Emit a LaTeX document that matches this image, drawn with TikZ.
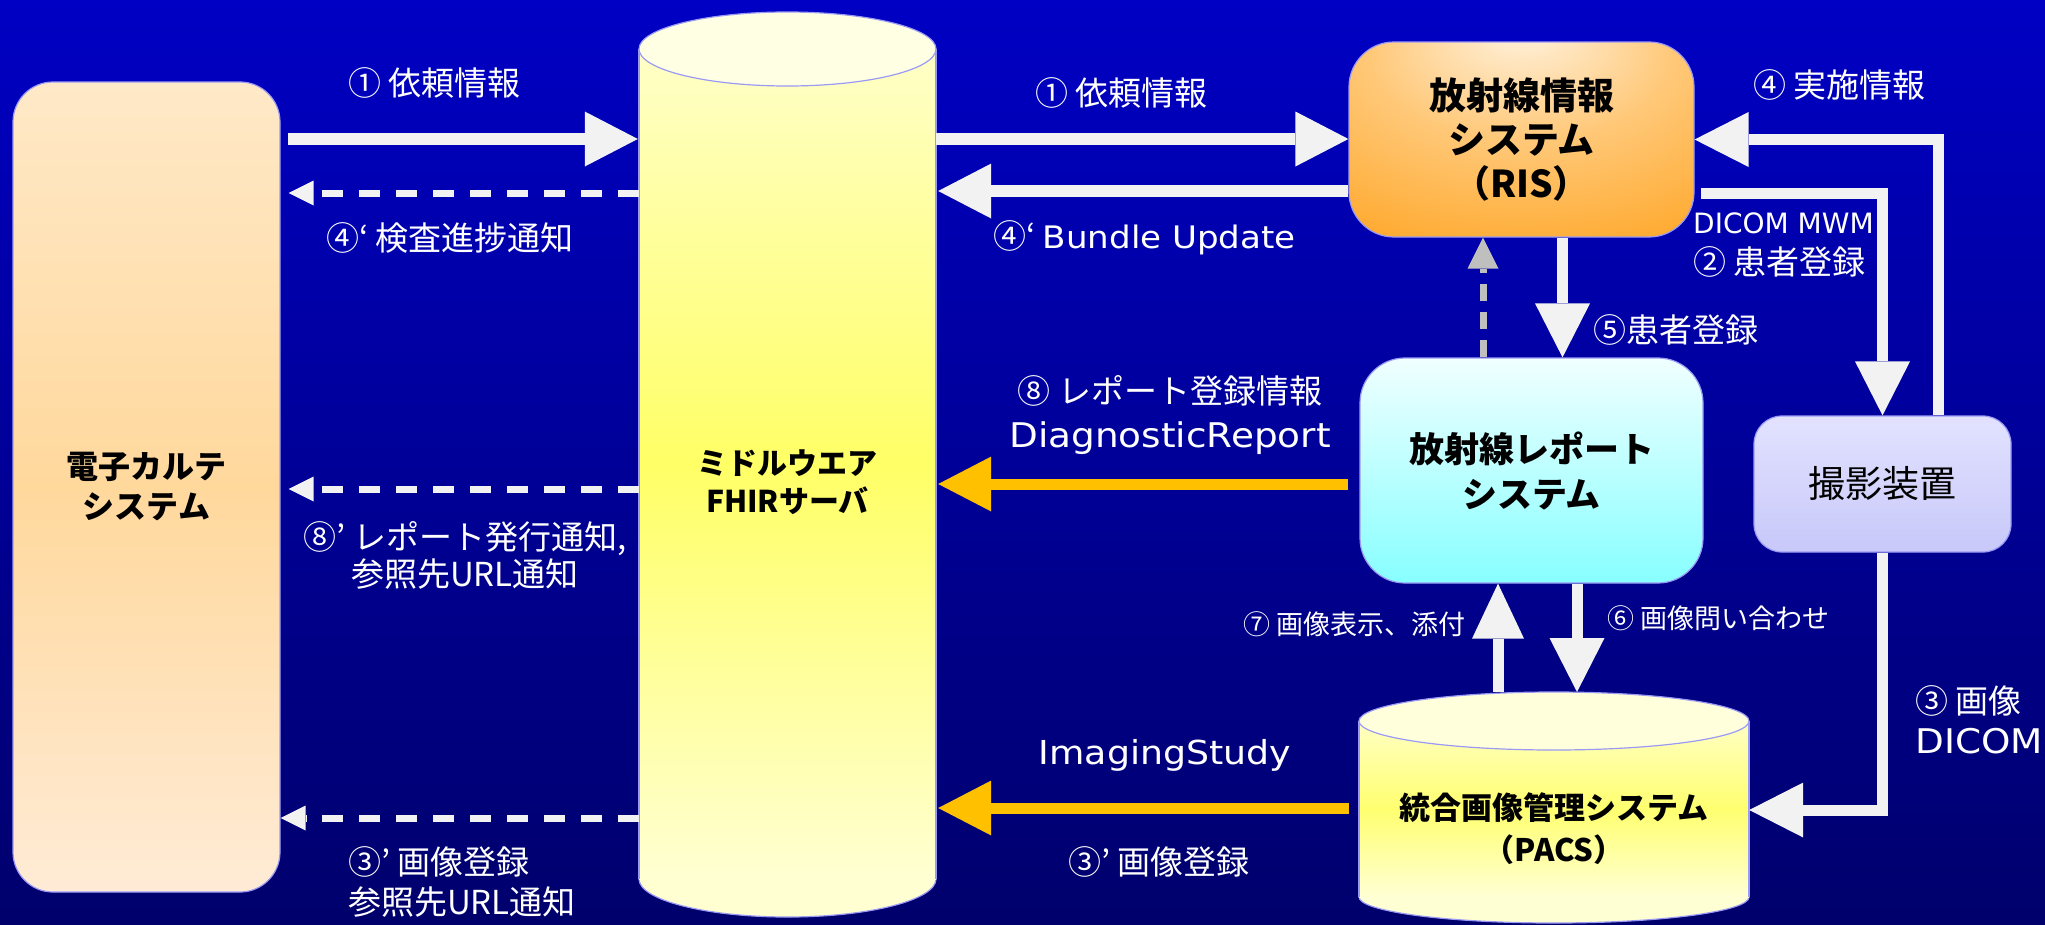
\documentclass[tikz,border=0pt]{standalone}
\usepackage{fontspec}
\setmainfont{Noto Sans CJK JP}
\newfontfamily\latfont{DejaVu Sans}
\newfontfamily\latwide{DejaVu Sans}[FakeStretch=1.1]
\usetikzlibrary{arrows.meta,calc}
\definecolor{bgtop}{HTML}{0000C4}
\definecolor{bgbot}{HTML}{00006C}
\definecolor{edge}{HTML}{9A9AF5}
\definecolor{arrw}{HTML}{F2F2F2}
\definecolor{orng}{HTML}{FFC000}
\definecolor{gry}{HTML}{BFBFBF}
\definecolor{ehrA}{HTML}{FFE9C8}
\definecolor{ehrB}{HTML}{FFD89C}
\definecolor{ehrC}{HTML}{FFEBD6}
\definecolor{cylA}{HTML}{FFFFC8}
\definecolor{cylB}{HTML}{FFFF66}
\definecolor{cylC}{HTML}{FFFFD2}
\definecolor{cylT}{HTML}{FFFFE4}
\definecolor{pacA}{HTML}{FFFFC4}
\definecolor{pacB}{HTML}{FFFF70}
\definecolor{pacC}{HTML}{FFFFD4}
\definecolor{pacT}{HTML}{FFFFDC}
\definecolor{risA}{HTML}{FFF4E2}
\definecolor{risB}{HTML}{FFC878}
\definecolor{risC}{HTML}{FFA21C}
\definecolor{repA}{HTML}{F0FFFF}
\definecolor{repB}{HTML}{88FFFF}
\definecolor{devA}{HTML}{E2E2FF}
\definecolor{devB}{HTML}{C8C8FA}
\pgfdeclareradialshading{risshade}{\pgfpoint{0bp}{30bp}}{color(0bp)=(risA); color(22bp)=(risB); color(50bp)=(risC); color(80bp)=(risC)}
\begin{document}
\begin{tikzpicture}[x=1pt,y=-1pt,
  box/.style={draw=edge, line width=1.2pt, inner sep=0pt, align=center, text=black},
  warrow/.style={draw=arrw, line width=12pt, line join=miter, -{Triangle[width=55pt,length=53pt,line width=0pt]}},
  varrow/.style={draw=arrw, line width=11pt, line join=miter, -{Triangle[width=55pt,length=54pt,line width=0pt]}},
  oarrow/.style={draw=orng, line width=11pt, -{Triangle[width=55pt,length=53pt,line width=0pt]}},
  darrow/.style={draw=arrw, line width=7pt, dash pattern=on 21pt off 16pt, -{Triangle[width=25pt,length=25pt,line width=0pt]}},
  garrow/.style={draw=gry, line width=7pt, dash pattern=on 17pt off 11pt, -{Triangle[width=31pt,length=31pt,line width=0pt]}},
  lbl/.style={text=white, inner sep=0pt, font=\fontsize{33}{40}\selectfont},
  slbl/.style={text=white, inner sep=0pt, font=\fontsize{27}{32}\selectfont}]
\useasboundingbox (0,0) rectangle (2045,924);
\shade[top color=bgtop, bottom color=bgbot] (0,0) rectangle (2045,924);

% middleware cylinder
\filldraw[fill=cylC, draw=edge, line width=1.2pt] (787.5,879) ellipse [x radius=148.5pt, y radius=38pt];
\shade[top color=cylA, bottom color=cylC, middle color=cylB] (639,49) rectangle (936,879);
\draw[edge, line width=1.2pt] (639,49) -- (639,879) (936,49) -- (936,879);
\filldraw[fill=cylT, draw=edge, line width=1.2pt] (787.5,49) ellipse [x radius=148.5pt, y radius=37pt];
\node[inner sep=0pt, minimum width=297pt, align=center, font=\fontsize{30}{38}\selectfont\bfseries] (fhir) at (787.5,482) {ミドルウエア\\FHIRサーバ};

% PACS cylinder
\filldraw[fill=pacC, draw=edge, line width=1.2pt] (1554,897) ellipse [x radius=195pt, y radius=26pt];
\shade[top color=pacA, bottom color=pacC, middle color=pacB] (1359,721) rectangle (1749,897);
\draw[edge, line width=1.2pt] (1359,721) -- (1359,897) (1749,721) -- (1749,897);
\filldraw[fill=pacT, draw=edge, line width=1.2pt] (1554,721) ellipse [x radius=195pt, y radius=29pt];
\coordinate (pacstop) at (1554,692);
\node[inner sep=0pt, minimum width=390pt, align=center, font=\fontsize{31}{42}\selectfont\bfseries] (pacs) at (1554,829) {統合画像管理システム\\（PACS）};

% boxes
\node[box, rounded corners=40pt, minimum width=267pt, minimum height=810pt, top color=ehrA, bottom color=ehrC, middle color=ehrB, font=\fontsize{32}{40}\selectfont\bfseries] (ehr) at (146.5,487) {電子カルテ\\システム};
\node[box, rounded corners=45pt, minimum width=345pt, minimum height=195pt, shading=risshade, font=\fontsize{37}{44}\selectfont\bfseries] (ris) at (1521.5,139.5) {放射線情報\\システム\\（RIS）};
\node[box, rounded corners=45pt, minimum width=343pt, minimum height=225pt, top color=repA, bottom color=repB, font=\fontsize{35}{45}\selectfont\bfseries] (rep) at (1531.5,470.5) {放射線レポート\\システム};
\node[box, rounded corners=28pt, minimum width=257pt, minimum height=136pt, top color=devA, bottom color=devB, font=\fontsize{37}{44}\selectfont] (dev) at (1882.5,484) {撮影装置};

% left connectors
\draw[warrow, shorten <=7pt, shorten >=1pt] (ehr.east |- 0,139) -- (fhir.west |- 0,139);
\draw[darrow, shorten >=8pt] (fhir.west |- 0,193) -- (ehr.east |- 0,193);
\draw[darrow, shorten >=8pt] (fhir.west |- 0,489) -- (ehr.east |- 0,489);
\draw[darrow] (fhir.west |- 0,818) -- (ehr.east |- 0,818);

% middle connectors
\draw[warrow] (fhir.east |- 0,139) -- (ris.west |- 0,139);
\draw[warrow, shorten >=2pt] (ris.west |- 0,191) -- (fhir.east |- 0,191);
\draw[oarrow, shorten <=11pt, shorten >=2pt] (rep.west |- 0,484) -- (fhir.east |- 0,484);
\draw[oarrow, shorten <=10pt, shorten >=2pt] (pacs.west |- 0,808) -- (fhir.east |- 0,808);

% right connectors
\draw[varrow] (1938.5,0 |- dev.north) |- (ris.east |- 0,139.5);
\draw[varrow, shorten <=6pt] (ris.east |- 0,193) -| (dev.north);
\draw[varrow] (dev.south) |- (pacs.east |- 0,810);
\draw[varrow] (1562.5,0 |- ris.south) -- (1562.5,0 |- rep.north);
\draw[garrow] (1483,0 |- rep.north) -- (1483,0 |- ris.south);
\draw[varrow, -{Triangle[width=52pt,length=55pt,line width=0pt]}] (1498,0 |- pacstop) -- (1498,0 |- rep.south);
\draw[varrow] (1577,0 |- rep.south) -- (1577,0 |- pacstop);

% labels
\node[lbl, anchor=west] (l1) at (348,83) {① 依頼情報};
\node[lbl, anchor=west] (l2) at (326,238) {④‘ 検査進捗通知};
\node[lbl, align=center, font=\fontsize{33}{37}\selectfont] (l3) at (465,555) {⑧’ レポート発行通知,\\参照先URL通知};
\node[lbl, anchor=west, align=left] (l4) at (348,882) {③’ 画像登録\\参照先URL通知};
\node[lbl, anchor=west] (l5) at (1035,93) {① 依頼情報};
\node[lbl, anchor=west] (l6) at (993,238) {④‘ {\latwide\fontsize{31}{40}\selectfont Bundle Update}};
\node[lbl, align=center, font=\fontsize{33}{44}\selectfont] (l7) at (1170,415) {⑧ レポート登録情報\\{\latwide\fontsize{34}{44}\selectfont DiagnosticReport}};
\node[lbl, font=\latwide\fontsize{33}{40}\selectfont] (l8) at (1165,755) {ImagingStudy};
\node[lbl] (l9) at (1159,862) {③’ 画像登録};
\node[lbl, anchor=west] (l10) at (1753,85) {④ 実施情報};
\node[slbl, anchor=west, font=\latfont\fontsize{28}{32}\selectfont] (l11) at (1693,223) {DICOM MWM};
\node[lbl, anchor=west] (l12) at (1693,262) {② 患者登録};
\node[lbl, anchor=west] (l13) at (1593,330) {⑤患者登録};
\node[slbl, anchor=west] (l14) at (1243,624) {⑦ 画像表示、添付};
\node[slbl, anchor=west] (l15) at (1607,618) {⑥ 画像問い合わせ};
\node[lbl, anchor=west, align=left] (l16) at (1915,720) {③ 画像\\{\latwide\fontsize{34}{40}\selectfont DICOM}};
\end{tikzpicture}
\end{document}
